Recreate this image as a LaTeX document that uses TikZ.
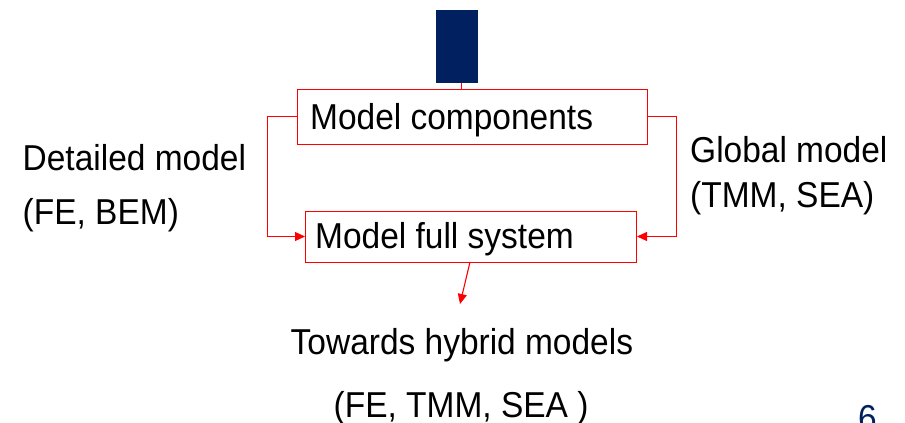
\documentclass[tikz,border=0pt]{standalone}
\usepackage{fontspec}
\usetikzlibrary{arrows.meta}
\newfontfamily\arfont[FakeStretch=0.93]{Liberation Sans}
\definecolor{navy}{RGB}{0,32,96}
\definecolor{lred}{RGB}{255,0,0}
\tikzset{
  lbl/.style={anchor=base west, inner sep=0pt, font=\arfont\fontsize{36}{40}\selectfont},
  boxline/.style={draw=lred, line width=1.3pt},
  conn/.style={draw=lred, line width=1.1pt, -{Triangle[length=10pt,width=9pt]}},
}
\begin{document}
\begin{tikzpicture}[x=1pt,y=-1pt]
\useasboundingbox (0,0) rectangle (905,423);
\begin{scope}
\clip (0,0) rectangle (905,423);
% navy bar
\node[fill=navy, minimum width=42pt, minimum height=73pt, inner sep=0pt, anchor=north west] (bar) at (436,10) {};
% boxes
\node[boxline, minimum width=350pt, minimum height=55pt, inner sep=0pt, anchor=north west] (mc) at (296.7,89) {};
\node[boxline, minimum width=330.7pt, minimum height=51pt, inner sep=0pt, anchor=north west] (mf) at (305,210.7) {};
\node[lbl] (mct) at (310,129) {Model components};
\node[lbl] (mft) at (315,248) {Model full system};
% texts
\node[lbl] (d1) at (22.5,170.5) {Detailed model};
\node[lbl] (d2) at (22.5,224.5) {(FE, BEM)};
\node[lbl] (g1) at (690,162) {Global model};
\node[lbl] (g2) at (690,207) {(TMM, SEA)};
\node[lbl] (t1) at (290.5,354) {Towards hybrid models};
\node[lbl] (t2) at (333.5,417) {(FE, TMM, SEA )};
\node[lbl, text=navy] (pg) at (858,430) {6};
% connectors
\draw[draw=lred, line width=1.1pt] (bar.south -| 461.5,0) -- (461.5,88.5);
\draw[conn] (mc.west |- 0,116.5) -| (267.3,236.5) -- (mf.west |- 0,236.5);
\draw[conn] (mc.east |- 0,116.5) -| (676.5,236.5) -- (mf.east |- 0,236.5);
\coordinate (dn) at (460,304);
\draw[conn] (470,262) -- (dn);
\end{scope}
\end{tikzpicture}
\end{document}
